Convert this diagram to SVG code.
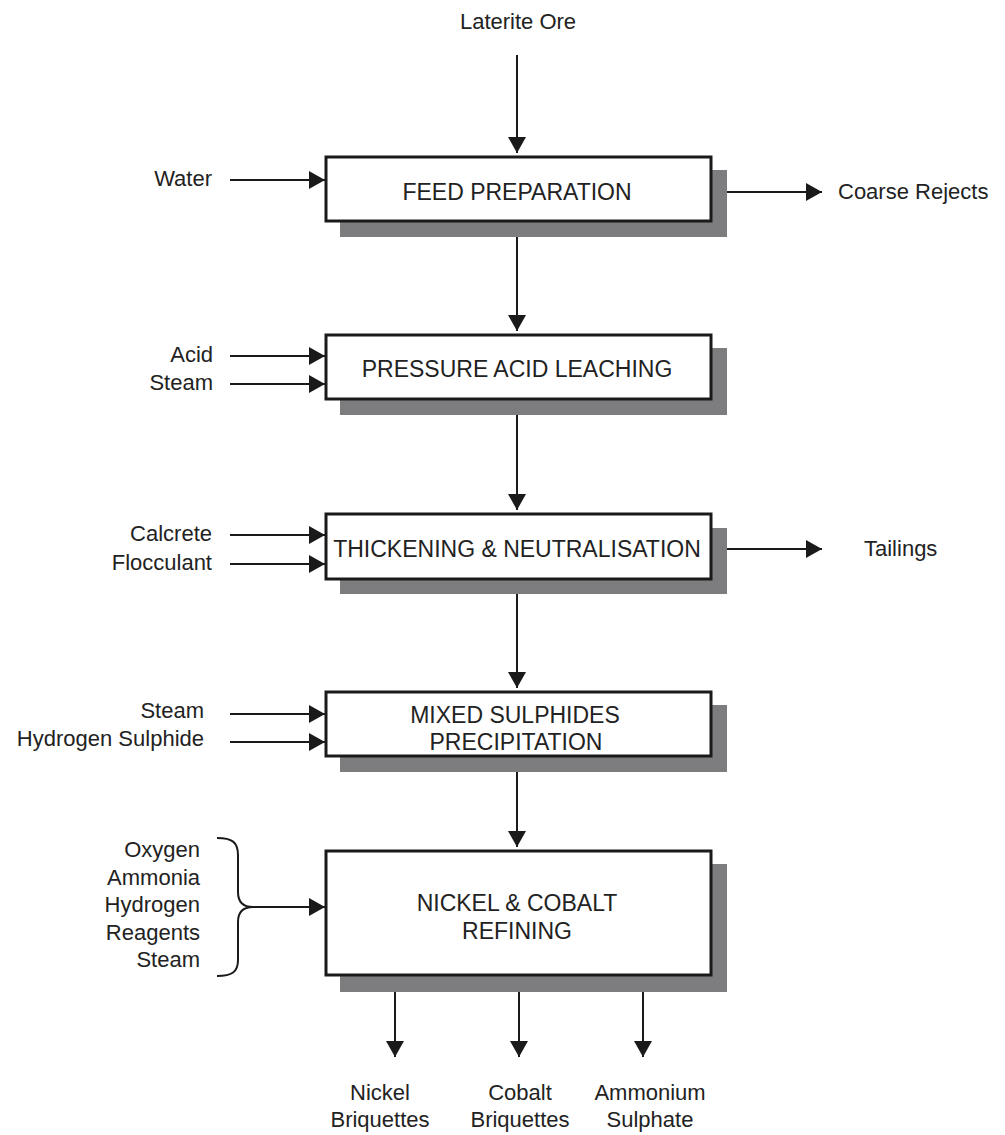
<svg xmlns="http://www.w3.org/2000/svg" width="1005" height="1135" viewBox="0 0 1005 1135">
<style>
text{font-family:"Liberation Sans",Arial,sans-serif;fill:#222;}
.lbl{font-size:22px;}
.box{font-size:23px;text-anchor:middle;}
.r{text-anchor:end;}
.c{text-anchor:middle;}
.shadow{fill:#7d7d80;stroke:none;}
.frame{fill:#fff;stroke:#1a1a1a;stroke-width:3;}
.ln{stroke:#1a1a1a;stroke-width:2;fill:none;}
</style>
<defs>
<marker id="ah" viewBox="0 0 16 18" refX="16" refY="9" markerWidth="16" markerHeight="18" markerUnits="userSpaceOnUse" orient="auto">
<path d="M0,0 L16,9 L0,18 z" fill="#1a1a1a"/>
</marker>
</defs>
<rect width="1005" height="1135" fill="#fff"/>

<g id="connectors">
<line class="ln" x1="517" y1="55" x2="517" y2="153" marker-end="url(#ah)"/>
<line class="ln" x1="517" y1="237" x2="517" y2="331" marker-end="url(#ah)"/>
<line class="ln" x1="517" y1="415" x2="517" y2="510" marker-end="url(#ah)"/>
<line class="ln" x1="517" y1="594" x2="517" y2="688" marker-end="url(#ah)"/>
<line class="ln" x1="517" y1="772" x2="517" y2="847" marker-end="url(#ah)"/>
<line class="ln" x1="230" y1="180" x2="325" y2="180" marker-end="url(#ah)"/>
<line class="ln" x1="727" y1="192" x2="822" y2="192" marker-end="url(#ah)"/>
<line class="ln" x1="230" y1="356" x2="325" y2="356" marker-end="url(#ah)"/>
<line class="ln" x1="230" y1="384" x2="325" y2="384" marker-end="url(#ah)"/>
<line class="ln" x1="230" y1="535" x2="325" y2="535" marker-end="url(#ah)"/>
<line class="ln" x1="230" y1="564" x2="325" y2="564" marker-end="url(#ah)"/>
<line class="ln" x1="727" y1="549" x2="822" y2="549" marker-end="url(#ah)"/>
<line class="ln" x1="230" y1="714" x2="325" y2="714" marker-end="url(#ah)"/>
<line class="ln" x1="230" y1="742" x2="325" y2="742" marker-end="url(#ah)"/>
<path class="ln" d="M217,838 C232,838 238,842 238,855 L238,892 C238,902 243,907 253,907 C243,907 238,912 238,922 L238,960 C238,972 232,976 217,976"/>
<line class="ln" x1="253" y1="907" x2="325" y2="907" marker-end="url(#ah)"/>
<line class="ln" x1="395" y1="988" x2="395" y2="1057" marker-end="url(#ah)"/>
<line class="ln" x1="519" y1="988" x2="519" y2="1057" marker-end="url(#ah)"/>
<line class="ln" x1="643" y1="988" x2="643" y2="1057" marker-end="url(#ah)"/>
</g>

<g id="n-feed">
<rect class="shadow" x="340" y="170" width="387" height="67"/>
<rect class="frame" x="326" y="157" width="385" height="64"/>
<text class="box" x="517" y="200">FEED PREPARATION</text>
</g>
<g id="n-pal">
<rect class="shadow" x="340" y="348" width="387" height="67"/>
<rect class="frame" x="326" y="335" width="385" height="64"/>
<text class="box" x="517" y="377">PRESSURE ACID LEACHING</text>
</g>
<g id="n-thick">
<rect class="shadow" x="340" y="528" width="387" height="66"/>
<rect class="frame" x="326" y="514" width="385" height="65"/>
<text class="box" x="517" y="557">THICKENING &amp; NEUTRALISATION</text>
</g>
<g id="n-msp">
<rect class="shadow" x="340" y="705" width="387" height="67"/>
<rect class="frame" x="326" y="692" width="385" height="64"/>
<text class="box" x="515" y="723">MIXED SULPHIDES</text>
<text class="box" x="516" y="750">PRECIPITATION</text>
</g>
<g id="n-refine">
<rect class="shadow" x="340" y="864" width="387" height="128"/>
<rect class="frame" x="326" y="851" width="385" height="124"/>
<text class="box" x="517" y="911">NICKEL &amp; COBALT</text>
<text class="box" x="517" y="939">REFINING</text>
</g>

<g id="labels">
<text class="lbl c" x="518" y="29">Laterite Ore</text>
<text class="lbl r" x="212" y="186">Water</text>
<text class="lbl" x="838" y="199">Coarse Rejects</text>
<text class="lbl r" x="213" y="362">Acid</text>
<text class="lbl r" x="213" y="390">Steam</text>
<text class="lbl r" x="212" y="541">Calcrete</text>
<text class="lbl r" x="212" y="570">Flocculant</text>
<text class="lbl" x="864" y="556">Tailings</text>
<text class="lbl r" x="204" y="718">Steam</text>
<text class="lbl r" x="204" y="746">Hydrogen Sulphide</text>
<text class="lbl r" x="200" y="857">Oxygen</text>
<text class="lbl r" x="200" y="885">Ammonia</text>
<text class="lbl r" x="200" y="912">Hydrogen</text>
<text class="lbl r" x="200" y="940">Reagents</text>
<text class="lbl r" x="200" y="967">Steam</text>
<text class="lbl c" x="380" y="1100">Nickel</text>
<text class="lbl c" x="380" y="1127">Briquettes</text>
<text class="lbl c" x="520" y="1100">Cobalt</text>
<text class="lbl c" x="520" y="1127">Briquettes</text>
<text class="lbl c" x="650" y="1100">Ammonium</text>
<text class="lbl c" x="650" y="1127">Sulphate</text>
</g>
</svg>
